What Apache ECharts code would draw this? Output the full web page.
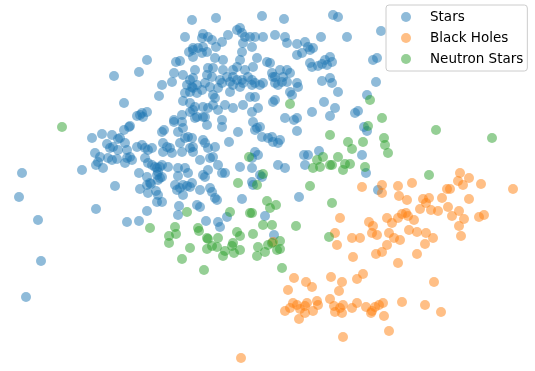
<!DOCTYPE html>
<html>
<head>
<meta charset="utf-8">
<script src="https://cdn.jsdelivr.net/npm/echarts@6/dist/echarts.min.js"></script>
<style>html,body{margin:0;padding:0;background:#fff;}#chart{width:535px;height:371px;}</style>
</head>
<body>
<div id="chart"></div>
<script>
const categories = ['Stars', 'Black Holes', 'Neutron Stars'];

const stars = [
[22,173],[19,197],[38,220],[41,261],[26,297],[82,170],[96,209],[115,186],[127,222],[139,221],[147,211],
[92,138],[102,134],[112,135],[114,76],[139,72],[147,60],[124,103],[159,96],[162,85],[172,82],[174,73],[176,62],[180,61],[183,75],[190,80],[185,37],[192,20],[189,52],[193,50],[187,85],[190,92],[185,93],[193,88],[183,101],[190,103],
[137,116],[142,113],[147,112],[140,115],[143,117],[174,120],[182,115],[190,112],
[130,126],[124,130],[129,127],[164,130],[162,132],[174,122],[182,122],[183,128],[178,132],
[118,139],[120,138],[107,144],[110,148],[113,147],[118,150],[125,143],[127,150],[137,147],[142,145],[145,148],[148,150],[152,148],[163,143],[167,147],[170,148],[163,152],[172,153],[180,143],[185,138],[188,137],[192,138],[182,152],[190,148],[193,152],
[95,153],[100,157],[98,162],[96,165],[103,168],[108,158],[112,160],[117,159],[130,157],[127,158],[132,160],[125,163],
[145,158],[148,163],[152,165],[155,167],[157,168],[160,167],[162,165],[158,172],[162,177],[168,167],[178,168],[185,168],[188,173],
[139,173],[147,177],[157,175],[160,178],[150,183],[147,185],[140,189],[148,193],[156,191],[158,195],[157,202],[162,202],[151,184],[158,180],[178,176],
[175,185],[180,188],[183,185],[187,186],[177,190],[183,195],[179,206],[178,215],
[216,18],[262,16],[284,19],
[203,34],[202,38],[208,37],[212,40],[222,42],[228,35],[237,30],[240,28],[242,33],[245,37],[250,37],[255,37],[263,37],[275,35],[285,37],[287,43],[297,44],
[193,48],[198,48],[203,47],[202,53],[207,52],[193,57],[216,47],[243,43],[252,47],[242,52],[297,55],[302,53],
[215,58],[223,60],[240,60],[237,67],[233,70],[245,70],[253,67],[257,58],
[267,62],[270,63],[272,73],[280,70],[287,70],[290,73],[283,77],[275,77],
[195,70],[208,68],[213,68],[212,77],[220,80],[223,70],[227,77],
[233,77],[237,80],[242,80],[248,77],[252,80],
[193,78],[197,85],[192,87],[207,75],[205,83],[210,87],[202,90],[197,93],
[222,83],[218,88],[230,82],[233,85],[240,87],[243,83],[252,85],[255,83],[260,85],[263,83],
[273,77],[275,83],[278,85],[282,82],[287,82],[297,83],[298,87],[290,92],[292,95],
[230,92],[250,97],[255,97],[213,95],[215,98],[273,102],[275,100],
[195,107],[203,107],[208,108],[213,105],[218,110],[225,105],[233,108],[243,105],[252,112],[258,108],
[205,117],[197,117],[193,110],[285,118],[297,118],
[333,15],[338,17],[321,37],[347,37],[381,31],
[305,42],[308,47],[313,48],[310,50],
[310,63],[312,67],[318,66],[322,64],[325,60],[330,57],[332,62],[327,65],
[373,60],[377,58],
[322,81],[330,78],[332,83],[338,92],[324,102],[335,108],[367,95],[376,82],
[312,112],[330,116],[355,113],[358,111],
[364,127],[367,131],[362,155],[366,173],
[304,155],[308,155],[305,165],[319,151],[294,120],[297,131],
[299,197],[378,190],
[195,118],[203,117],[207,125],[222,120],[222,127],[238,132],[253,122],[257,128],[260,127],[255,130],
[262,137],[268,138],[272,137],[273,142],[278,143],[280,140],
[203,140],[205,143],[208,148],[215,147],[193,147],[229,142],
[200,160],[210,158],[213,157],[218,165],[222,173],[225,173],[203,175],[205,177],[208,170],
[240,167],[252,168],[255,152],[258,155],[252,158],[278,165],[285,168],
[260,175],[262,177],[252,182],[253,185],
[200,190],[210,188],[212,192],[190,187],[192,183],
[215,198],[217,200],[242,199],[197,205],[200,207],[265,216],[227,217],[206,221],[218,222],[220,227],[274,235]
];

const blackHoles = [
[460,173],[469,178],[458,181],[463,185],[481,184],[513,189],[362,187],[382,185],[398,186],[412,183],[447,189],[450,189],
[382,193],[399,196],[407,200],[423,199],[429,198],[426,203],[442,198],[469,199],
[448,207],[459,211],[420,209],[431,210],[438,211],[452,216],[464,219],[459,226],[479,217],[484,215],[461,236],
[387,218],[392,223],[398,218],[402,214],[406,213],[408,216],[414,220],
[369,222],[373,226],[372,233],[377,235],[389,233],[394,238],[400,240],[409,230],[417,232],[426,233],[433,238],[425,244],
[352,238],[360,238],[387,245],[382,252],[376,254],[417,254],[353,257],[398,263],[363,274],[357,279],[434,282],
[340,218],[335,233],[337,245],[273,242],
[294,278],[306,282],[312,287],[288,290],[331,277],[342,282],[339,291],
[293,303],[297,305],[290,308],[285,311],[300,309],[305,306],[307,303],[305,313],[313,311],[317,301],[318,305],[299,319],
[330,299],[334,306],[340,308],[343,305],[342,313],[335,312],[352,308],[357,303],[366,307],[372,311],[375,307],[383,303],[379,305],[371,313],
[402,302],[425,305],[441,312],[384,316],[389,331],[343,337],[241,358]
];

const neutronStars = [
[62,127],[150,228],[175,227],[169,236],[176,234],[169,243],[182,259],[187,212],
[290,104],[249,157],[263,174],[257,185],[238,183],
[267,201],[270,208],[276,205],[230,212],[250,213],[252,213],[263,225],[272,225],[296,226],[198,228],
[310,186],[332,203],
[199,231],[207,238],[208,239],[218,238],[207,249],[212,246],[217,247],[190,248],
[204,270],[225,251],[223,256],[233,243],[232,246],[234,253],[240,250],[237,232],[240,236],[253,234],
[258,247],[257,256],[265,252],[268,245],[272,243],[280,241],[277,250],[280,249],[282,268],[329,237],
[370,100],[382,118],[368,126],[436,130],[492,138],[384,138],[385,145],[363,142],[352,149],[388,153],[350,164],[365,167],[429,175],
[330,135],[348,142],[317,160],[323,157],[320,167],[313,168],[338,157],[330,165],[332,165],[345,164],[343,170]
];

const colors = ['#1f77b4', '#ff7f0e', '#2ca02c'];
const seriesData = [stars, blackHoles, neutronStars];

const chart = echarts.init(document.getElementById('chart'), null, {renderer: 'canvas'});
chart.setOption({
  animation: false,
  backgroundColor: '#ffffff',
  grid: {left: 0, right: 0, top: 0, bottom: 0},
  xAxis: {type: 'value', min: 0, max: 535, show: false},
  yAxis: {type: 'value', min: 0, max: 371, inverse: true, show: false},
  legend: {
    data: categories,
    orient: 'vertical',
    left: 386,
    top: 5,
    padding: [5, 4, 5, 15],
    itemWidth: 10,
    itemHeight: 10,
    itemGap: 7,
    backgroundColor: 'rgba(255,255,255,0.8)',
    borderColor: '#cccccc',
    borderWidth: 1,
    borderRadius: 3,
    textStyle: {fontFamily: 'DejaVu Sans', fontSize: 13.5, color: '#000', lineHeight: 14, padding: [0, 0, 0, 14]}
  },
  series: categories.map((name, i) => ({
    name: name,
    type: 'scatter',
    symbol: 'circle',
    symbolSize: 10,
    data: seriesData[i],
    itemStyle: {color: colors[i], opacity: 0.5}
  }))
});
</script>
</body>
</html>
